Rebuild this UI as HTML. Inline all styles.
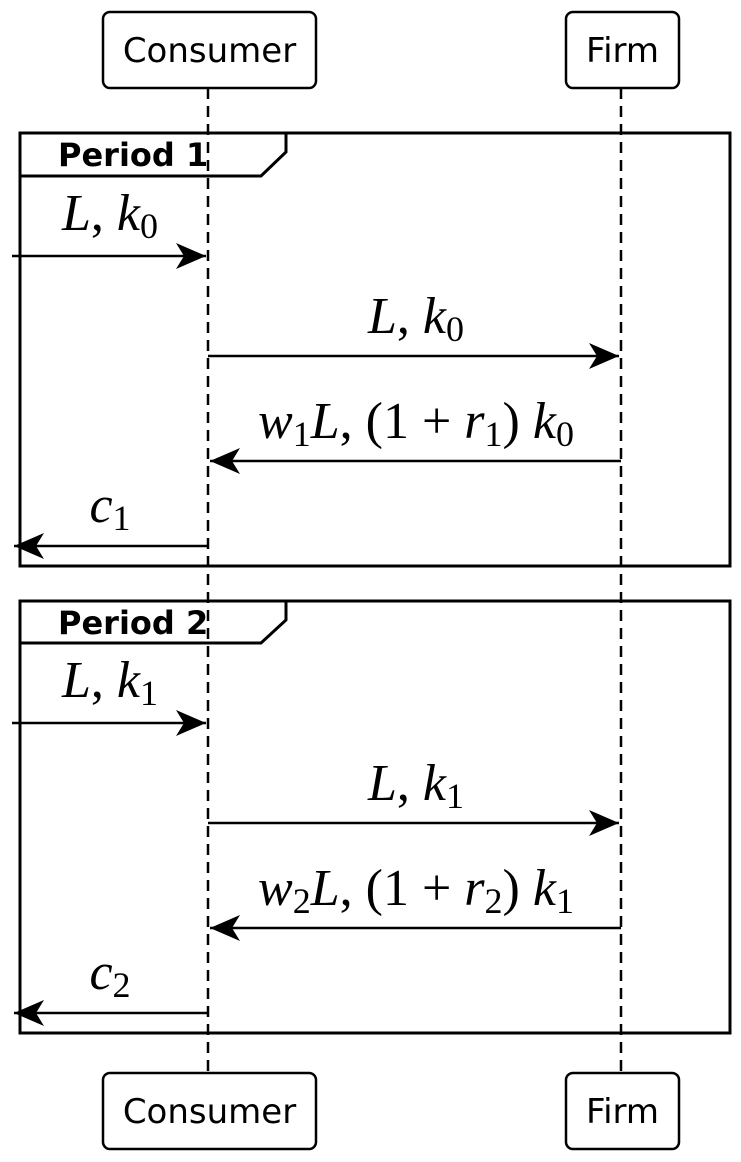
<!DOCTYPE html>
<html><head><meta charset="utf-8"><style>
html,body{margin:0;padding:0;background:#fff;}
svg{display:block;}
.m{font-family:"Liberation Serif",serif;font-style:italic;font-size:52px;}
.r{font-style:normal;}
.s{font-size:36px;font-style:normal;}
.lab{font-family:"DejaVu Sans","Liberation Sans",sans-serif;font-size:34px;}
.per{font-family:"DejaVu Sans","Liberation Sans",sans-serif;font-size:32px;font-weight:bold;}
</style></head><body>
<svg width="741" height="1162" viewBox="0 0 741 1162" xmlns="http://www.w3.org/2000/svg">
<defs>
<marker id="a" markerWidth="32" markerHeight="26" refX="30" refY="13" orient="auto" markerUnits="userSpaceOnUse">
<path d="M0,0 L30,13 L0,26 L8,13 Z" fill="#000"/>
</marker>
</defs>
<g stroke="#000" stroke-width="2.5" stroke-dasharray="11,7" fill="none">
<line x1="208" y1="88" x2="208" y2="1073"/>
<line x1="621" y1="88" x2="621" y2="1073"/>
</g>
<g fill="#fff" stroke="#000" stroke-width="2.5">
<rect x="103" y="12" width="213" height="76" rx="7"/>
<rect x="566" y="12" width="113" height="76" rx="7"/>
<rect x="103" y="1073" width="213" height="76" rx="7"/>
<rect x="566" y="1073" width="113" height="76" rx="7"/>
</g>
<g class="lab" text-anchor="middle">
<text x="209.5" y="62">Consumer</text><text x="622.5" y="62">Firm</text>
<text x="209.5" y="1123">Consumer</text><text x="622.5" y="1123">Firm</text>
</g>
<g id="p1">
<rect x="20" y="133" width="710" height="433" fill="none" stroke="#000" stroke-width="3"/>
<path d="M20,176 L261,176 L286,152 L286,133" fill="none" stroke="#000" stroke-width="3"/>
<text class="per" x="58" y="166">Period 1</text>
<g stroke="#000" stroke-width="2.5">
<line x1="12" y1="256" x2="206" y2="256" marker-end="url(#a)"/>
<line x1="208" y1="356" x2="619" y2="356" marker-end="url(#a)"/>
<line x1="621" y1="461" x2="210" y2="461" marker-end="url(#a)"/>
<line x1="208" y1="546" x2="14" y2="546" marker-end="url(#a)"/>
</g>
<text class="m" x="110" y="230" text-anchor="middle">L<tspan class="r">, </tspan>k<tspan class="s" dy="8">0</tspan></text>
<text class="m" x="416" y="333" text-anchor="middle">L<tspan class="r">, </tspan>k<tspan class="s" dy="8">0</tspan></text>
<text class="m" x="416" y="438" text-anchor="middle">w<tspan class="s" dy="8">1</tspan><tspan dy="-8">L</tspan><tspan class="r">, (1 + </tspan>r<tspan class="s" dy="8">1</tspan><tspan class="r" dy="-8">) </tspan>k<tspan class="s" dy="8">0</tspan></text>
<text class="m" x="110" y="522" text-anchor="middle">c<tspan class="s" dy="8">1</tspan></text>
</g>
<g transform="translate(0,468)">
<rect x="20" y="133" width="710" height="432" fill="none" stroke="#000" stroke-width="3"/>
<path d="M20,175 L261,175 L286,152 L286,133" fill="none" stroke="#000" stroke-width="3"/>
<text class="per" x="58" y="166">Period 2</text>
<g stroke="#000" stroke-width="2.5">
<line x1="12" y1="255" x2="206" y2="255" marker-end="url(#a)"/>
<line x1="208" y1="355" x2="619" y2="355" marker-end="url(#a)"/>
<line x1="621" y1="460" x2="210" y2="460" marker-end="url(#a)"/>
<line x1="208" y1="545" x2="14" y2="545" marker-end="url(#a)"/>
</g>
<text class="m" x="110" y="229" text-anchor="middle">L<tspan class="r">, </tspan>k<tspan class="s" dy="8">1</tspan></text>
<text class="m" x="416" y="332" text-anchor="middle">L<tspan class="r">, </tspan>k<tspan class="s" dy="8">1</tspan></text>
<text class="m" x="416" y="437" text-anchor="middle">w<tspan class="s" dy="8">2</tspan><tspan dy="-8">L</tspan><tspan class="r">, (1 + </tspan>r<tspan class="s" dy="8">2</tspan><tspan class="r" dy="-8">) </tspan>k<tspan class="s" dy="8">1</tspan></text>
<text class="m" x="110" y="521" text-anchor="middle">c<tspan class="s" dy="8">2</tspan></text>
</g>
</svg>
</body></html>
